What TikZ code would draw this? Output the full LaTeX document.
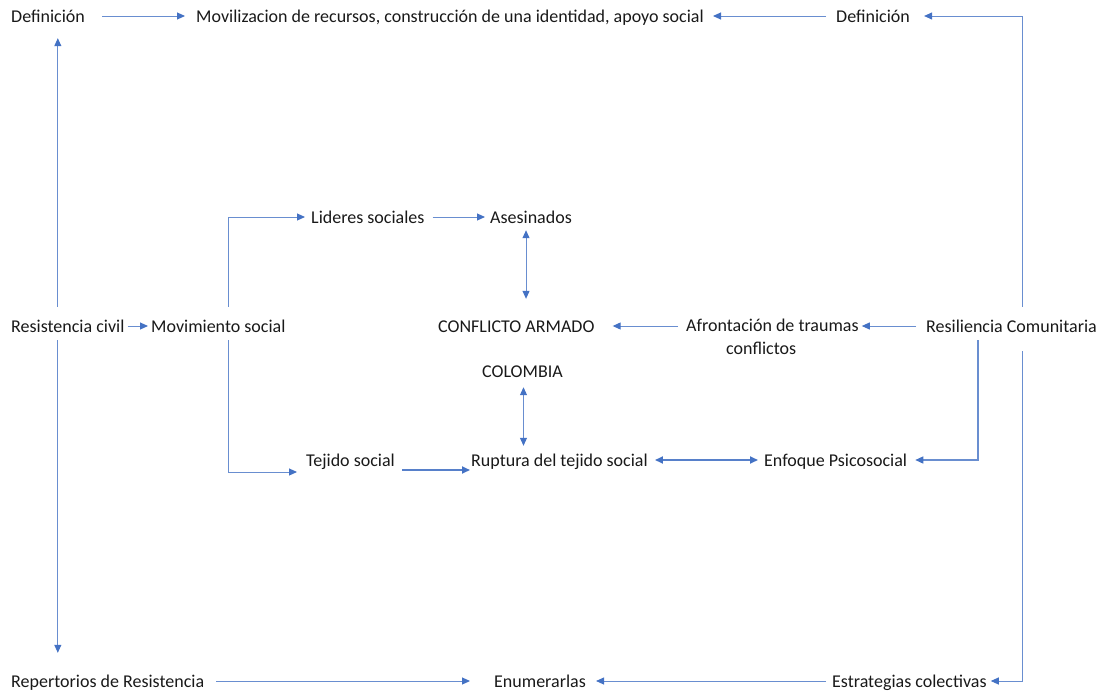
\documentclass[tikz,border=0pt]{standalone}
\usepackage{fontspec}
\setmainfont{Carlito}
\usetikzlibrary{arrows.meta}
\definecolor{lineblue}{HTML}{4472C4}
\tikzset{
  lbl/.style={font=\fontsize{18}{23}\selectfont, inner sep=0pt, text height=14pt, text depth=2pt, anchor=west, text=black!90},
  tip/.style={Triangle[length=8pt,width=7pt,color=lineblue]},
  arr/.style={draw=lineblue!80, line width=1pt, -{Triangle[length=8pt,width=7pt,color=lineblue]}},
  darr/.style={draw=lineblue!80, line width=1pt, {Triangle[length=8pt,width=7pt,color=lineblue]}-{Triangle[length=8pt,width=7pt,color=lineblue]}},
  thick arr/.style={arr, draw=lineblue!90, line width=1.7pt},
  thick darr/.style={darr, draw=lineblue!90, line width=1.7pt},
}
\begin{document}
\begin{tikzpicture}[x=1pt,y=-1pt]
\useasboundingbox (0,0) rectangle (1103,691);
% nodes
\node[lbl] (defl)  at (11,16)  {Definición};
\node[lbl] (movil) at (196,16) {Movilizacion de recursos, construcción de una identidad, apoyo social};
\node[lbl] (defr)  at (836,16) {Definición};
\node[lbl] (lid)   at (311,217) {Lideres sociales};
\node[lbl] (ases)  at (490,217) {Asesinados};
\node[lbl] (resc)  at (11,326) {Resistencia civil};
\node[lbl] (movs)  at (151,326) {Movimiento social};
\node[lbl] (conf)  at (438,326) {CONFLICTO ARMADO};
\node[lbl, text height={}, text depth={}, anchor=north west, align=left] (afr) at (686,319) {Afrontación de traumas\\\hspace*{40pt}conflictos};
\node[lbl] (res)   at (926,326) {Resiliencia Comunitaria};
\node[lbl] (col)   at (482,371) {COLOMBIA};
\node[lbl] (tej)   at (306,460) {Tejido social};
\node[lbl] (rup)   at (471,460) {Ruptura del tejido social};
\node[lbl] (enf)   at (764,460) {Enfoque Psicosocial};
\node[lbl] (rep)   at (11,681) {Repertorios de Resistencia};
\node[lbl] (enu)   at (494,681) {Enumerarlas};
\node[lbl] (est)   at (832,681) {Estrategias colectivas};
% connectors
\draw[arr, shorten <=17pt, shorten >=11pt] (defl.east) -- (movil.west);
\draw[arr, shorten <=10pt, shorten >=9pt] (defr.west) -- (movil.east);
\draw[arr, shorten <=11pt, shorten >=14pt] ([xshift=10.5pt]res.north) |- (defr.east);
\draw[arr, shorten <=11pt, shorten >=14pt] ([xshift=-10pt]resc.north) -- ([xshift=-10pt]resc.north |- defl.south);
\draw[arr, shorten <=6pt, shorten >=20pt] ([xshift=-10pt]resc.south) -- ([xshift=-10pt]resc.south |- rep.north);
\draw[arr, shorten <=3pt, shorten >=3pt] (resc.east) -- (movs.west);
\draw[arr, shorten <=11pt, shorten >=6pt] ([xshift=10pt]movs.north) |- (lid.west);
\draw[arr, shorten <=8pt, shorten >=5pt] (lid.east) -- (ases.west);
\draw[darr, shorten <=5pt, shorten >=19pt] ([xshift=-5pt]ases.south) -- ([xshift=-5pt]ases.south |- conf.north);
\draw[arr, shorten <=6pt, shorten >=9pt] ([xshift=10pt]movs.south) |- ([yshift=-12pt]tej.west);
\draw[thick arr, shorten <=7pt, shorten >=1pt] ([yshift=-10pt]tej.east) -- ([yshift=-10pt]tej.east -| rup.west);
\draw[thick darr, shorten <=7pt, shorten >=6pt] (rup.east) -- (enf.west);
\draw[darr, shorten <=8pt, shorten >=6pt] ([xshift=1pt]col.south) -- ([xshift=1pt]col.south |- rup.north);
\draw[arr, line width=1.3pt, shorten <=6pt, shorten >=8pt] ([xshift=-33.5pt]res.south) |- (enf.east);
\draw[arr, shorten <=17pt, shorten >=4pt] ([xshift=10.5pt]res.south) |- (est.east);
\draw[arr, shorten <=6pt, shorten >=10pt] (est.west) -- (enu.east);
\draw[arr, shorten <=12pt, shorten >=24pt] (rep.east) -- (enu.west);
\draw[arr, shorten <=10pt, shorten >=3pt] (res.west) -- (res.west -| afr.east);
\draw[arr, shorten <=8pt, shorten >=18pt] (conf.east -| afr.west) -- (conf.east);
\end{tikzpicture}
\end{document}
